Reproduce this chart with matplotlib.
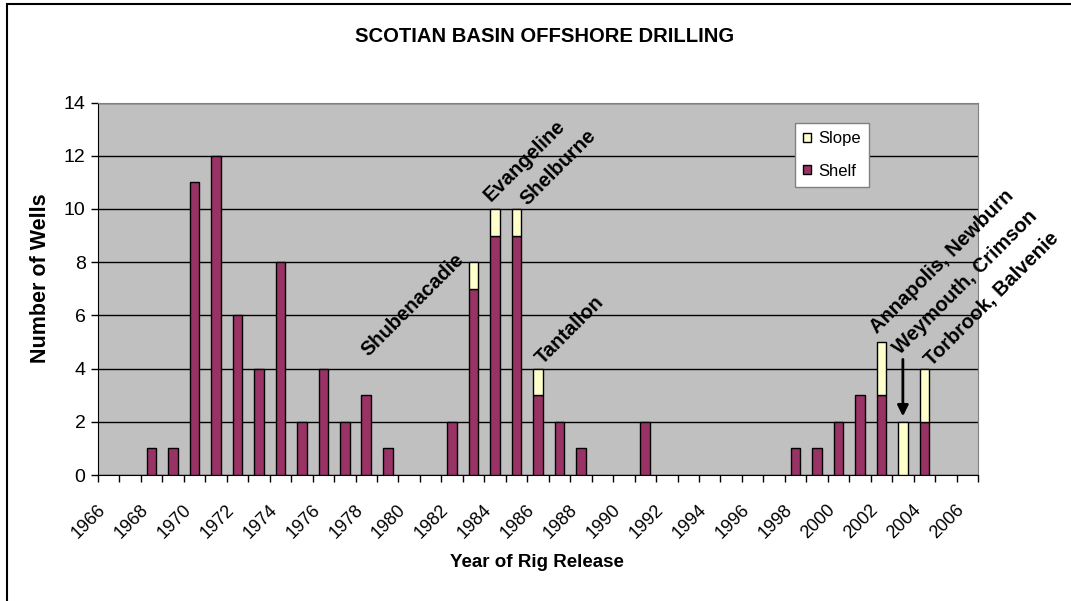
import matplotlib
matplotlib.use('Agg')
import matplotlib.pyplot as plt
from matplotlib.patches import Rectangle

plt.rcParams['font.family'] = ['Liberation Sans', 'DejaVu Sans']

years = list(range(1966, 2007))
shelf = [0, 0, 1, 1, 11, 12, 6, 4, 8, 2,
         4, 2, 3, 1, 0, 0, 2, 7, 9, 9,
         3, 2, 1, 0, 0, 2, 0, 0, 0, 0,
         0, 0, 1, 1, 2, 3, 3, 0, 2, 0,
         0]
slope = [0, 0, 0, 0, 0, 0, 0, 0, 0, 0,
         0, 0, 0, 0, 0, 0, 0, 1, 1, 1,
         1, 0, 0, 0, 0, 0, 0, 0, 0, 0,
         0, 0, 0, 0, 0, 0, 2, 2, 2, 0,
         0]

# well names written above the bars: (text, year, x shift, y)
well_notes = [
    ('Shubenacadie', 1983, -4.92, 4.43),
    ('Evangeline', 1984, -0.2, 10.25),
    ('Shelburne', 1985, 0.52, 10.1),
    ('Tantallon', 1986, 0.22, 4.15),
    ('Annapolis, Newburn', 2002, -0.18, 5.28),
    ('Weymouth, Crimson', 2003, -0.12, 4.51),
    ('Torbrook, Balvenie', 2004, 0.33, 4.06),
]

shelf_color, slope_color = '#993366', '#FFFFCC'


def main():
    fig = plt.figure(figsize=(10.71, 6.01), dpi=100)
    ax = fig.add_axes([98 / 1071, 126 / 601, 880 / 1071, 372.5 / 601])

    x = list(range(len(years)))
    # empty years get no bar at all
    sx = [i for i in x if shelf[i] > 0]
    ax.bar(sx, [shelf[i] for i in sx], width=0.45, color=shelf_color,
           edgecolor='black', linewidth=1, label='Shelf', zorder=3)
    px = [i for i in x if slope[i] > 0]
    ax.bar(px, [slope[i] for i in px], width=0.45,
           bottom=[shelf[i] for i in px], color=slope_color,
           edgecolor='black', linewidth=1, label='Slope', zorder=3)

    ax.set_facecolor('#C0C0C0')
    ax.set_xlim(-0.5, len(years) - 0.5)
    ax.set_ylim(0, 14)
    ax.set_yticks(range(0, 15, 2))
    ax.yaxis.grid(True, color='black', linewidth=1)
    ax.set_axisbelow(True)

    ax.set_xticks(x[::2])
    ax.set_xticklabels([str(y) for y in years[::2]], rotation=45,
                       ha='right', va='bottom', rotation_mode='anchor',
                       fontsize=13)
    ax.set_xticks([i - 0.5 for i in range(len(years) + 1)], minor=True)
    ax.tick_params(axis='x', which='major', length=0, pad=27.5)
    ax.tick_params(axis='x', which='minor', length=5, width=1)
    ax.tick_params(axis='y', length=5, width=1, labelsize=14, pad=4)

    for side in ('top', 'right'):
        ax.spines[side].set_color('#808080')
    for side in ('left', 'bottom'):
        ax.spines[side].set_color('black')

    ax.set_xlabel('Year of Rig Release', fontsize=13.5, fontweight='bold',
                  va='center')
    ax.xaxis.set_label_coords(0.499, -0.2336)
    ax.set_ylabel('Number of Wells', fontsize=15.5, fontweight='bold',
                  va='center')
    ax.yaxis.set_label_coords(-0.0648, 0.529)
    fig.text(545 / 1071, 1 - 36 / 601, 'SCOTIAN BASIN OFFSHORE DRILLING',
             ha='center', va='center', fontsize=14.6, fontweight='bold')

    for text, year, dx, y in well_notes:
        ax.text(years.index(year) + dx, y, text, rotation=45,
                rotation_mode='anchor', ha='left', va='baseline',
                fontsize=14.5, fontweight='bold', clip_on=False, zorder=5)

    i03 = years.index(2003)
    ax.annotate('', xy=(i03, shelf[i03] + slope[i03] + 0.1),
                xytext=(i03, 4.45),
                arrowprops=dict(arrowstyle='-|>', color='black', lw=2,
                                mutation_scale=16), zorder=5)

    handles, labels = ax.get_legend_handles_labels()
    leg = ax.legend(handles[::-1], labels[::-1], loc='upper left',
                    bbox_to_anchor=(697 / 880, 1 - 20.5 / 372.5),
                    fontsize=12, frameon=True, fancybox=False,
                    edgecolor='#808080', framealpha=1, handlelength=0.45,
                    handleheight=0.45, handletextpad=0.45, borderpad=0.5,
                    labelspacing=1.05, borderaxespad=0)
    leg.get_frame().set_linewidth(1)

    fig.patches.append(Rectangle((7 / 1071, -0.1), 1.2, 1.1 - 4 / 601,
                                 transform=fig.transFigure, fill=False,
                                 edgecolor='black', linewidth=1.5))

    fig.savefig('out.png', dpi=100)


if __name__ == '__main__':
    main()
